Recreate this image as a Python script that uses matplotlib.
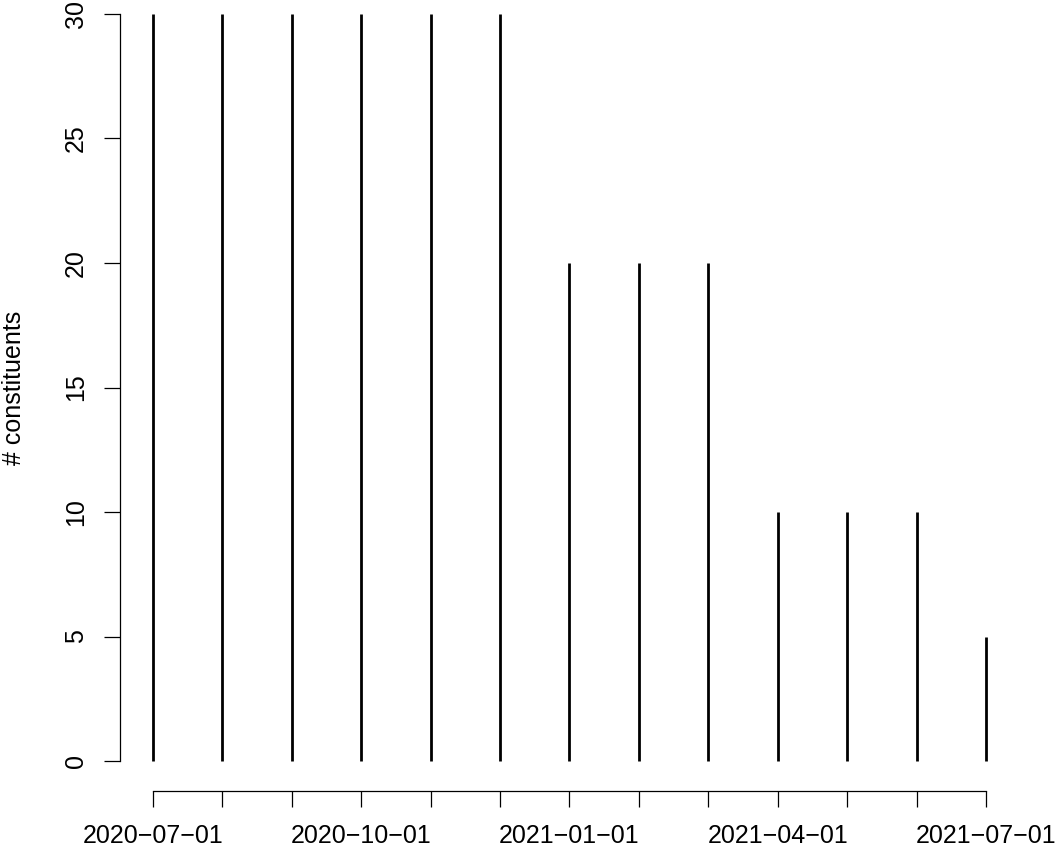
"""Monthly constituent counts drawn as R-style 'type=h' spikes."""
import matplotlib

matplotlib.use("Agg")
import matplotlib.pyplot as plt
import numpy as np

months = [
    "2020-07-01", "2020-08-01", "2020-09-01", "2020-10-01", "2020-11-01",
    "2020-12-01", "2021-01-01", "2021-02-01", "2021-03-01", "2021-04-01",
    "2021-05-01", "2021-06-01", "2021-07-01",
]
counts = [30, 30, 30, 30, 30, 30, 20, 20, 20, 10, 10, 10, 5]
labelled = ["2020-07-01", "2020-10-01", "2021-01-01", "2021-04-01", "2021-07-01"]

plt.rcParams["font.family"] = ["Liberation Sans", "DejaVu Sans"]
FS = 18

fig = plt.figure(figsize=(10.55, 8.48), dpi=100)
ax = fig.add_axes([0.11346, 0.06733, 0.85270, 0.95142])

# yearmon-like axis: months evenly spaced
x = np.arange(len(months)) / 12.0
ax.vlines(x, 0, counts, color="black", linewidth=2.0)

span = x[-1] - x[0]
ax.set_xlim(x[0] - 0.04 * span, x[-1] + 0.04 * span)
ax.set_ylim(-0.04 * 30, 30 * 1.04)

for side in ("top", "right"):
    ax.spines[side].set_visible(False)
ax.spines["left"].set_bounds(0, 30)
ax.spines["bottom"].set_bounds(x[0], x[-1])
ax.spines["left"].set_linewidth(0.9)
ax.spines["bottom"].set_linewidth(0.9)

ax.set_xticks(x)
ax.set_xticklabels([m.replace("-", "\u2212") if m in labelled else "" for m in months])
ax.set_yticks([0, 5, 10, 15, 20, 25, 30])
ax.tick_params(axis="both", length=11.5, width=0.9, labelsize=FS, direction="out")
ax.tick_params(axis="x", pad=12.5)
ax.tick_params(axis="y", pad=11.5)
for lab in ax.get_yticklabels():
    lab.set_rotation(90)
    lab.set_va("center")

fig.text(14 / 1055, 1 - 387.5 / 848, "# constituents", rotation=90,
         ha="center", va="center", fontsize=FS)

fig.savefig("out.png", dpi=100)
